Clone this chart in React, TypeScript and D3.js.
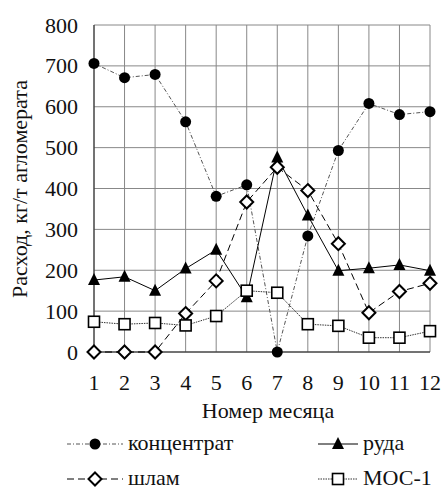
import React, { useLayoutEffect } from 'react';
import * as d3 from 'd3';

const months = [1, 2, 3, 4, 5, 6, 7, 8, 9, 10, 11, 12];
const concentrate = [706, 671, 679, 563, 381, 409, 0, 284, 493, 608, 581, 588];
const ore = [176, 184, 150, 204, 250, 134, 476, 334, 199, 205, 213, 199];
const sludge = [0, 0, 0, 94, 174, 367, 452, 395, 265, 96, 148, 168];
const mos1 = [74, 68, 71, 65, 88, 150, 145, 68, 64, 35, 35, 51];
const yTicks = [0, 100, 200, 300, 400, 500, 600, 700, 800];

const W = 441;
const H = 489;
const margin = { top: 25, right: 11, bottom: 137, left: 94 };

type Marker = 'circle' | 'triangle' | 'diamond' | 'square';

const series: { name: string; values: number[]; dash: string; marker: Marker; stroke: string }[] = [
  { name: 'концентрат', values: concentrate, dash: '4,2,1,2', marker: 'circle', stroke: '#555' },
  { name: 'руда', values: ore, dash: '', marker: 'triangle', stroke: '#000' },
  { name: 'шлам', values: sludge, dash: '7,4', marker: 'diamond', stroke: '#000' },
  { name: 'МОС-1', values: mos1, dash: '1.5,1', marker: 'square', stroke: '#333' },
];

// text in the serif font, same size everywhere
const T = ({ children, ...rest }: any) => (
  <text {...rest} fontFamily="Liberation Serif" fontSize={22} fill="#111" style={{ fontFamily: 'Liberation Serif', fontSize: 22 }}>
    {children}
  </text>
);

const MarkerShape = ({ type, x, y }: { type: Marker; x: number; y: number }) => {
  if (type === 'circle') return <circle cx={x} cy={y} r={5.5} fill="#000" />;
  if (type === 'triangle')
    return <path d={`M${x},${y - 7}L${x + 6},${y + 5}L${x - 6},${y + 5}Z`} fill="#000" />;
  if (type === 'diamond')
    return (
      <path
        d={`M${x},${y - 6.5}L${x + 6.5},${y}L${x},${y + 6.5}L${x - 6.5},${y}Z`}
        fill="#fff"
        stroke="#000"
        strokeWidth={2}
      />
    );
  return <rect x={x - 5.5} y={y - 5.5} width={11} height={11} fill="#fff" stroke="#000" strokeWidth={1.6} />;
};

const App = () => {
  // drop the default body margin so the svg sits at the top-left corner
  useLayoutEffect(() => {
    document.body.style.margin = '0';
    document.body.style.overflow = 'hidden';
  }, []);

  const innerW = W - margin.left - margin.right;
  const innerH = H - margin.top - margin.bottom;

  const x = d3.scaleLinear().domain([1, 12]).range([margin.left, margin.left + innerW]);
  const y = d3.scaleLinear().domain([0, 800]).range([margin.top + innerH, margin.top]);

  const line = d3
    .line<number>()
    .x((_, i) => x(months[i]))
    .y((d) => y(d));

  const legend = [
    { s: series[0], lx: 67, len: 56, ly: 444 },
    { s: series[1], lx: 318, len: 40, ly: 444 },
    { s: series[2], lx: 67, len: 56, ly: 479 },
    { s: series[3], lx: 318, len: 40, ly: 479 },
  ];

  return (
    <svg width={W} height={H} fontFamily="Liberation Serif" style={{ display: 'block' }}>
      {/* grid */}
      {months.map((m) => (
        <line key={'vx' + m} x1={x(m)} x2={x(m)} y1={y(0)} y2={y(800)} stroke="#888" strokeWidth={1} />
      ))}
      {yTicks.map((t) => (
        <line key={'hy' + t} x1={x(1)} x2={x(12)} y1={y(t)} y2={y(t)} stroke="#888" strokeWidth={1} />
      ))}
      <line x1={x(1)} x2={x(1)} y1={y(0)} y2={y(800)} stroke="#222" />
      <line x1={x(1)} x2={x(12)} y1={y(0)} y2={y(0)} stroke="#222" />

      {/* y ticks */}
      {yTicks.map((t) => (
        <T key={'yt' + t} x={78} y={y(t) + 7.5} textAnchor="end">
          {t}
        </T>
      ))}
      {/* x ticks */}
      {months.map((m) => (
        <T key={'xt' + m} x={x(m)} y={390} textAnchor="middle">
          {m}
        </T>
      ))}
      <T x={268} y={418} textAnchor="middle">
        Номер месяца
      </T>
      <T transform={`translate(27, ${189}) rotate(-90)`} textAnchor="middle">
        Расход, кг/т агломерата
      </T>

      {/* series */}
      {series.map((s) => (
        <g key={s.name}>
          <path d={line(s.values) || ''} fill="none" stroke={s.stroke} strokeWidth={1} strokeDasharray={s.dash} />
          {s.values.map((v, i) => (
            <MarkerShape key={i} type={s.marker} x={x(months[i])} y={y(v)} />
          ))}
        </g>
      ))}

      {/* legend */}
      {legend.map(({ s, lx, len, ly }) => (
        <g key={'lg' + s.name}>
          <line x1={lx} x2={lx + len} y1={ly} y2={ly} stroke={s.stroke} strokeWidth={1} strokeDasharray={s.dash} />
          <MarkerShape type={s.marker} x={lx + len / 2} y={ly} />
          <T x={lx + len + 5} y={ly + 6}>
            {s.name}
          </T>
        </g>
      ))}
    </svg>
  );
};

export default App;
